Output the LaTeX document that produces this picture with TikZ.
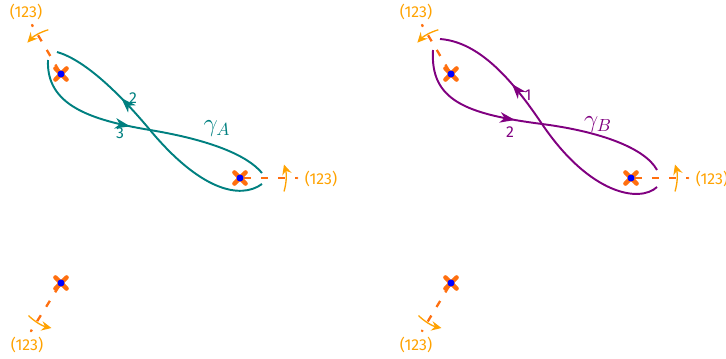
\documentclass[tikz,border=0pt]{standalone}
\usepackage{fontspec}
\newfontfamily\labelfont{Fira Sans}
\usepackage{tikz}
\usetikzlibrary{arrows.meta,shapes.misc,decorations.markings,backgrounds}
\definecolor{okteal}{HTML}{008080}
\definecolor{okpurple}{HTML}{800080}
\definecolor{cutorange}{HTML}{FF6F0F}
\definecolor{monoorange}{HTML}{FFA200}
\definecolor{puncblue}{HTML}{0000FF}
\tikzset{
  puncnode/.style={cross out,draw=cutorange,line width=2.6pt,line cap=round,minimum size=1.3mm,inner sep=0pt},
  puncdot/.style={circle,fill=puncblue,minimum size=1.4mm,inner sep=0pt},
  cutend/.style={circle,fill=cutorange,minimum size=0.5mm,inner sep=0pt},
  cutedge/.style={cutorange,line width=1.3pt,dash pattern=on 1.4mm off 2mm,dash phase=2.6mm},
  monoarc/.style={-{Stealth[length=2mm,width=1.9mm,inset=0.7mm]},monoorange,line width=0.75pt},
  monolabel/.style={text=monoorange,font=\labelfont\small,inner sep=1pt},
  loopedge/.style={line width=1.1pt},
  midarrow/.style={postaction={decorate},decoration={markings,mark=at position #1 with {\arrow{Stealth[length=3mm,width=2.1mm,inset=0.9mm]}}}},
  arclabel/.style={font=\labelfont\small,inner sep=1pt},
}

\begin{document}
\begin{tikzpicture}[x=0.2mm,y=0.2mm]
  \useasboundingbox (0,0) rectangle (726,358);
  % left sheet
  \node[puncnode] (pA1) at (61,284) {};
  \node[puncnode] (pA2) at (240,180) {};
  \node[puncnode] (pA3) at (61,75) {};
  \node[puncdot] (dA1) at (pA1) {};
  \node[puncdot] (dA2) at (pA2) {};
  \node[puncdot] (dA3) at (pA3) {};
  \node[cutend] (eA1) at (32,333) {};
  \node[cutend] (eA2) at (297,180) {};
  \node[cutend] (eA3) at (31,27) {};
  \node[monolabel] (lA1) at (26,346) {(123)};
  \node[monolabel] (lA2) at (321,179) {(123)};
  \node[monolabel] (lA3) at (27,13) {(123)};
  \draw[monoarc] (pA1.center) ++(106:9.2mm) arc[start angle=106,end angle=137,radius=9.2mm];
  \draw[monoarc] (pA2.center) ++(-17:9.2mm) arc[start angle=-17,end angle=17,radius=9.2mm];
  \draw[monoarc] (pA3.center) ++(225:9.2mm) arc[start angle=225,end angle=258,radius=9.2mm];
  \draw[loopedge,okteal,midarrow=0.45] (48,298) .. controls (46,253) and (90,238) .. (150,228)
    .. controls (210,218) and (247,203) .. (262,185);
  \draw[loopedge,okteal,midarrow=0.69] (262,174) .. controls (240,158) and (200,168) .. (150,228)
    .. controls (120,264) and (85,298) .. (57,306);
  \node[arclabel,text=okteal] (nA2) at (133,260) {2};
  \node[arclabel,text=okteal] (nA3) at (120,225) {3};
  \node[text=okteal,font=\Large,inner sep=1pt] (gA) at (217,229) {$\gamma_A$};
  % right sheet
  \node[puncnode] (pB1) at (451,284) {};
  \node[puncnode] (pB2) at (631,180) {};
  \node[puncnode] (pB3) at (451,75) {};
  \node[puncdot] (dB1) at (pB1) {};
  \node[puncdot] (dB2) at (pB2) {};
  \node[puncdot] (dB3) at (pB3) {};
  \node[cutend] (eB1) at (422,333) {};
  \node[cutend] (eB2) at (688,180) {};
  \node[cutend] (eB3) at (422,27) {};
  \node[monolabel] (lB1) at (416,346) {(123)};
  \node[monolabel] (lB2) at (712,179) {(123)};
  \node[monolabel] (lB3) at (416,13) {(123)};
  \draw[monoarc] (pB1.center) ++(106:9.2mm) arc[start angle=106,end angle=137,radius=9.2mm];
  \draw[monoarc] (pB2.center) ++(-17:9.2mm) arc[start angle=-17,end angle=17,radius=9.2mm];
  \draw[monoarc] (pB3.center) ++(225:9.2mm) arc[start angle=225,end angle=258,radius=9.2mm];
  \draw[loopedge,okpurple,midarrow=0.44] (433,308) .. controls (430,258) and (465,244) .. (542,234)
    .. controls (600,226.5) and (645,210) .. (657,188);
  \draw[loopedge,okpurple,midarrow=0.69] (657,171) .. controls (640,155) and (590,163) .. (542,234)
    .. controls (513,277) and (480,316) .. (440,319);
  \node[arclabel,text=okpurple] (nB1) at (528,263) {1};
  \node[arclabel,text=okpurple] (nB2) at (510,226) {2};
  \node[text=okpurple,font=\Large,inner sep=1pt] (gB) at (598,233) {$\gamma_B$};
  \begin{scope}[on background layer]
    \draw[cutedge] (pA1.center) -- (eA1.center);
    \draw[cutedge] (pA2.center) -- (eA2.center);
    \draw[cutedge] (pA3.center) -- (eA3.center);
    \draw[cutedge] (pB1.center) -- (eB1.center);
    \draw[cutedge] (pB2.center) -- (eB2.center);
    \draw[cutedge] (pB3.center) -- (eB3.center);
  \end{scope}
\end{tikzpicture}
\end{document}
